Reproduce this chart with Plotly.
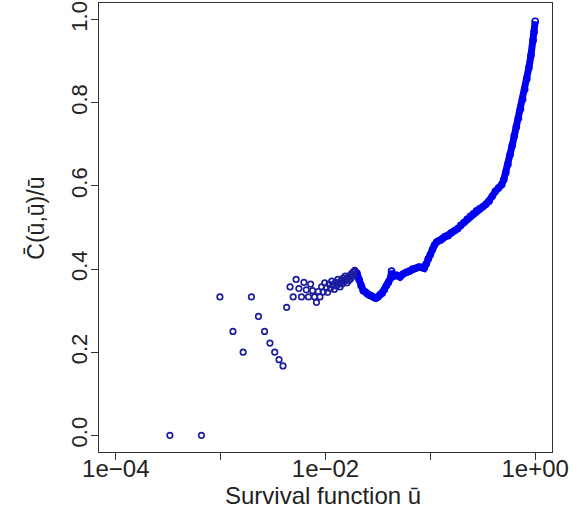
import plotly.graph_objects as go

# Sparse region: individual points (survival u, ratio)
u_sparse = [0.000328, 0.000656, 0.000984, 0.001311, 0.001639, 0.001967, 0.002295, 0.002623,
            0.002951, 0.003279, 0.003607, 0.003934, 0.004262, 0.004590, 0.004918, 0.005246,
            0.005574, 0.005902, 0.006230, 0.006557, 0.006885, 0.007213, 0.007541, 0.007869,
            0.008197, 0.008525, 0.008852, 0.009180, 0.009508, 0.009836, 0.010164, 0.010492,
            0.010820, 0.011148, 0.011475, 0.011803, 0.012131, 0.012459, 0.012787, 0.013115,
            0.013443, 0.013770, 0.014098, 0.014426, 0.014754, 0.015082, 0.015410, 0.015738,
            0.016066, 0.016393, 0.016721, 0.017049, 0.017377, 0.017705, 0.018033, 0.018361,
            0.018689, 0.019016]
c_sparse = [0.0, 0.0, 0.333, 0.25, 0.2, 0.333, 0.286, 0.25,
            0.222, 0.2, 0.182, 0.167, 0.308, 0.357, 0.333, 0.375,
            0.353, 0.333, 0.368, 0.35, 0.333, 0.364, 0.348, 0.333,
            0.32, 0.346, 0.333, 0.357, 0.345, 0.367, 0.355, 0.344,
            0.364, 0.353, 0.371, 0.361, 0.351, 0.368, 0.359, 0.375,
            0.366, 0.357, 0.372, 0.364, 0.378, 0.370, 0.383, 0.375,
            0.367, 0.380, 0.373, 0.385, 0.377, 0.389, 0.382, 0.393,
            0.386, 0.397]

# Dense region: points along the thick band
u_dense = [0.01905, 0.01995, 0.02089, 0.02188, 0.02291, 0.02399, 0.02512, 0.02630, 0.02754,
           0.02884, 0.03020, 0.03162, 0.03311, 0.03467, 0.03631, 0.03802, 0.03981, 0.04169,
           0.04266, 0.04467, 0.04786, 0.05129, 0.05495, 0.05888, 0.06310, 0.06761, 0.07244,
           0.07762, 0.08318, 0.08710, 0.09120, 0.09550, 0.1, 0.1047, 0.1096, 0.1148, 0.1202,
           0.1259, 0.1318, 0.1380, 0.1479, 0.1585, 0.1698, 0.1820, 0.1950, 0.2089, 0.2239,
           0.2399, 0.2570, 0.2754, 0.2951, 0.3162, 0.3388, 0.3631, 0.3890, 0.4169, 0.4467,
           0.4786, 0.5012, 0.5248, 0.5495, 0.5754, 0.6026, 0.6310, 0.6607, 0.6918, 0.7244,
           0.7586, 0.7943, 0.8318, 0.8710, 0.9120, 0.9550, 0.9772, 1.0]
c_dense = [0.395, 0.39, 0.375, 0.36, 0.348, 0.345, 0.340, 0.337, 0.335,
           0.332, 0.330, 0.333, 0.338, 0.342, 0.350, 0.360, 0.368, 0.378,
           0.395, 0.383, 0.385, 0.381, 0.388, 0.392, 0.395, 0.400, 0.402,
           0.405, 0.404, 0.402, 0.412, 0.425, 0.435, 0.447, 0.458, 0.465, 0.468,
           0.470, 0.474, 0.478, 0.480, 0.487, 0.492, 0.497, 0.505, 0.512, 0.520,
           0.527, 0.533, 0.540, 0.545, 0.550, 0.556, 0.563, 0.575, 0.587, 0.595,
           0.603, 0.615, 0.632, 0.652, 0.675, 0.697, 0.720, 0.742, 0.763, 0.785,
           0.808, 0.832, 0.858, 0.885, 0.915, 0.950, 0.970, 0.996]

x_tickvals = [1e-4, 1e-3, 1e-2, 1e-1, 1.0]
x_ticktext = ["1e\u221204", "", "1e\u221202", "", "1e+00"]
y_tickvals = [0.0, 0.2, 0.4, 0.6, 0.8, 1.0]
y_ticktext = ["0.0", "0.2", "0.4", "0.6", "0.8", "1.0"]

FONT = "Liberation Sans, Arial, sans-serif"

fig = go.Figure()
fig.add_trace(go.Scatter(
    x=u_dense, y=c_dense, mode="lines+markers",
    line=dict(color="#0000f0", width=7),
    marker=dict(symbol="circle-open", size=6, color="#0000f0", line=dict(width=1.6)),
    showlegend=False, hoverinfo="skip"))
fig.add_trace(go.Scatter(
    x=u_sparse, y=c_sparse, mode="markers",
    marker=dict(symbol="circle-open", size=5.5, color="#1c1c9e", line=dict(width=1.7)),
    showlegend=False, hoverinfo="skip"))

fig.update_layout(
    width=585, height=508,
    margin=dict(l=99, r=33, t=3, b=56, autoexpand=False),
    paper_bgcolor="white", plot_bgcolor="white",
    font=dict(family=FONT, size=21, color="#222"),
    xaxis=dict(type="log", range=[-4.16, 0.16], tickvals=x_tickvals, ticktext=x_ticktext,
               ticks="outside", ticklen=7, tickwidth=1, tickcolor="#333",
               showline=True, linecolor="#333", linewidth=1, mirror=True,
               showgrid=False, zeroline=False, tickfont=dict(size=24),
               automargin=False, ticklabelstandoff=-12),
    yaxis=dict(range=[-0.04, 1.04], tickvals=y_tickvals, ticktext=y_ticktext,
               ticks="outside", ticklen=7, tickwidth=1, tickcolor="#333",
               showline=True, linecolor="#333", linewidth=1, mirror=True,
               showgrid=False, zeroline=False, tickangle=-90, tickfont=dict(size=22),
               automargin=False, ticklabelstandoff=-5),
    annotations=[
        dict(text="Survival function \u016b", xref="paper", yref="paper",
             x=0.494, y=-0.097, xanchor="center", yanchor="middle",
             showarrow=False, font=dict(size=24)),
        dict(text="C\u0304(\u016b,\u016b)/\u016b", xref="paper", yref="paper",
             x=-0.141, y=0.52, xanchor="center", yanchor="middle", textangle=-90,
             showarrow=False, font=dict(size=23)),
    ],
)

fig.write_html("out.html", config={"displayModeBar": False},
               post_script="document.body.style.margin='0';")
